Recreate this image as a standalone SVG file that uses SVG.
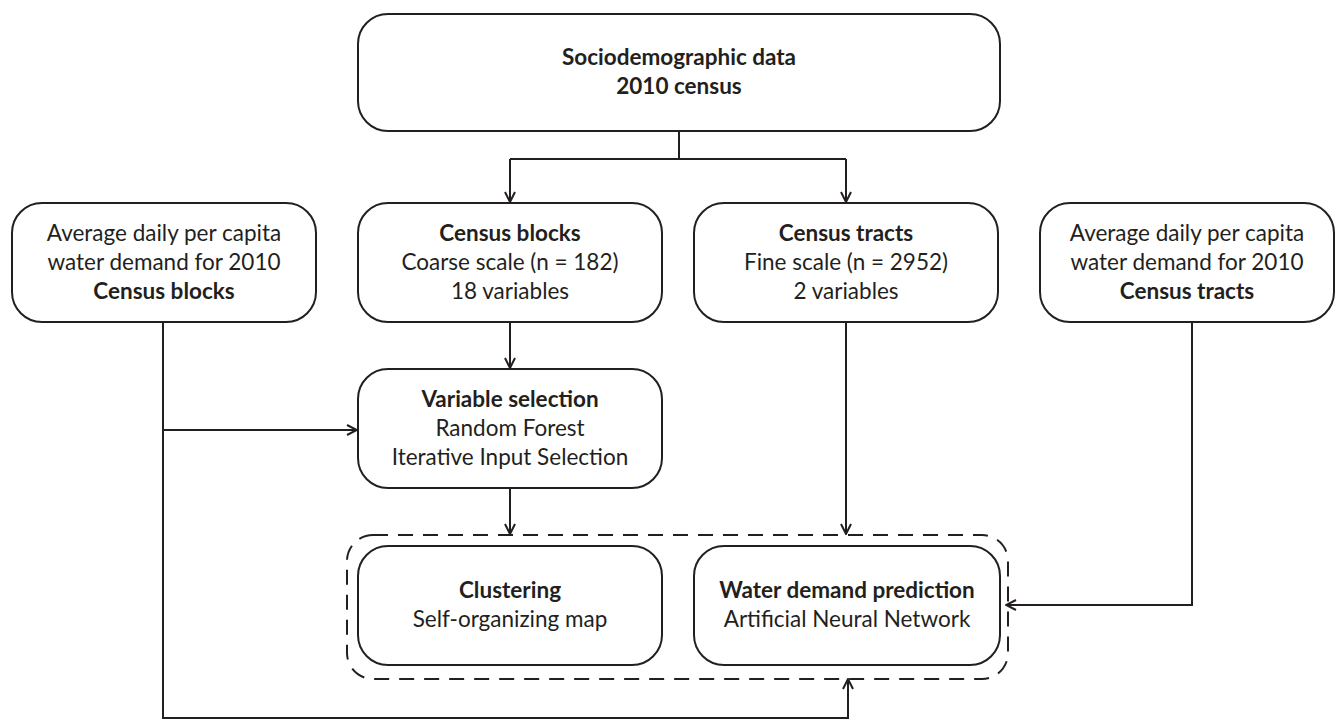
<svg xmlns="http://www.w3.org/2000/svg" width="1344" height="721" viewBox="0 0 1344 721">
<style>
.box{fill:#fff;stroke:#231f20;stroke-width:2}
.dash{fill:none;stroke:#231f20;stroke-width:2;stroke-dasharray:15 10}
.t{font-family:Lato,"Liberation Sans",sans-serif;font-size:22.5px;fill:#231f20;text-anchor:middle}
.b{font-weight:700}
.c{fill:none;stroke:#231f20;stroke-width:2}
</style>
<defs>
<marker id="ah" viewBox="0 0 12 12" refX="11" refY="6" markerWidth="12" markerHeight="12" markerUnits="userSpaceOnUse" orient="auto">
<path d="M1,1 L11,6 L1,11" fill="none" stroke="#231f20" stroke-width="2"/>
</marker>
</defs>
<rect width="1344" height="721" fill="#fff"/>
<g id="connectors">
<path class="c" d="M679,131 V159"/>
<path class="c" d="M510,159 H846"/>
<path class="c" d="M510,159 V202" marker-end="url(#ah)"/>
<path class="c" d="M846,159 V202" marker-end="url(#ah)"/>
<path class="c" d="M510,322 V368" marker-end="url(#ah)"/>
<path class="c" d="M163,322 V718 H848 V679" marker-end="url(#ah)"/>
<path class="c" d="M163,430 H357" marker-end="url(#ah)"/>
<path class="c" d="M510,488 V534" marker-end="url(#ah)"/>
<path class="c" d="M846,322 V534" marker-end="url(#ah)"/>
<path class="c" d="M1192,322 V605 H1006" marker-end="url(#ah)"/>
</g>
<g id="group-dashed">
<rect class="dash" x="347" y="535" width="661" height="144" rx="26"/>
</g>
<g id="sociodemographic">
<rect class="box" x="358" y="14" width="642" height="117" rx="30"/>
<text class="t b" x="679" y="65">Sociodemographic data</text>
<text class="t b" x="679" y="94">2010 census</text>
</g>
<g id="demand-blocks">
<rect class="box" x="12" y="203" width="304" height="119" rx="30"/>
<text class="t" x="164" y="241">Average daily per capita</text>
<text class="t" x="164" y="270">water demand for 2010</text>
<text class="t b" x="164" y="299">Census blocks</text>
</g>
<g id="census-blocks">
<rect class="box" x="358" y="203" width="304" height="119" rx="30"/>
<text class="t b" x="510" y="241">Census blocks</text>
<text class="t" x="510" y="270">Coarse scale (n = 182)</text>
<text class="t" x="510" y="299">18 variables</text>
</g>
<g id="census-tracts">
<rect class="box" x="694" y="203" width="304" height="119" rx="30"/>
<text class="t b" x="846" y="241">Census tracts</text>
<text class="t" x="846" y="270">Fine scale (n = 2952)</text>
<text class="t" x="846" y="299">2 variables</text>
</g>
<g id="demand-tracts">
<rect class="box" x="1040" y="203" width="294" height="119" rx="30"/>
<text class="t" x="1187" y="241">Average daily per capita</text>
<text class="t" x="1187" y="270">water demand for 2010</text>
<text class="t b" x="1187" y="299">Census tracts</text>
</g>
<g id="variable-selection">
<rect class="box" x="358" y="369" width="304" height="119" rx="30"/>
<text class="t b" x="510" y="407">Variable selection</text>
<text class="t" x="510" y="436">Random Forest</text>
<text class="t" x="510" y="465">Iterative Input Selection</text>
</g>
<g id="clustering">
<rect class="box" x="358" y="546" width="304" height="119" rx="30"/>
<text class="t b" x="510" y="598">Clustering</text>
<text class="t" x="510" y="627">Self-organizing map</text>
</g>
<g id="water-demand">
<rect class="box" x="694" y="546" width="306" height="119" rx="30"/>
<text class="t b" x="847" y="598">Water demand prediction</text>
<text class="t" x="847" y="627">Artificial Neural Network</text>
</g>
</svg>
